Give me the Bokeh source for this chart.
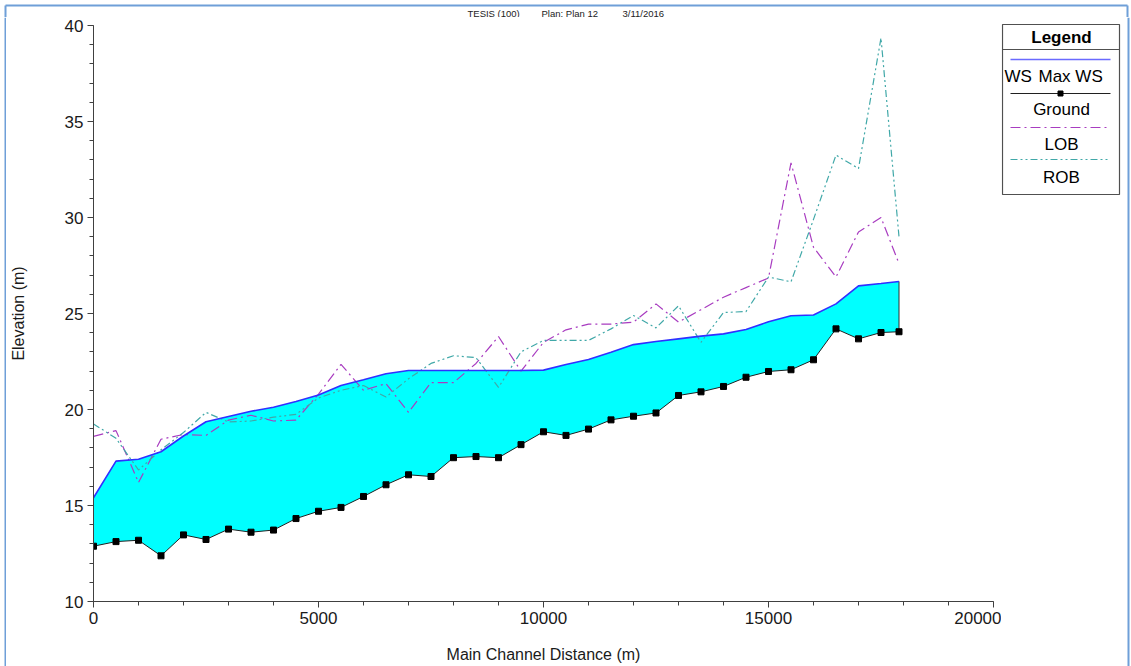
from bokeh.plotting import figure
from bokeh.models import Range1d, FixedTicker
from bokeh.layouts import row, column
from bokeh.embed import file_html
from bokeh.resources import INLINE
from bokeh.core.properties import value

# ---------------- data ----------------
station = [0, 500, 1000, 1500, 2000, 2500, 3000, 3500, 4000, 4500,
           5000, 5500, 6000, 6500, 7000, 7500, 8000, 8500, 9000, 9500,
           10000, 10500, 11000, 11500, 12000, 12500, 13000, 13500, 14000, 14500,
           15000, 15500, 16000, 16500, 17000, 17500, 17900]
ground = [12.88, 13.12, 13.19, 12.38, 13.47, 13.23, 13.77, 13.61, 13.72, 14.32,
          14.70, 14.90, 15.47, 16.08, 16.60, 16.51, 17.49, 17.55, 17.49, 18.17,
          18.84, 18.65, 18.98, 19.46, 19.65, 19.82, 20.73, 20.92, 21.20, 21.68,
          21.98, 22.07, 22.59, 24.20, 23.68, 24.01, 24.05]
ws = [15.40, 17.31, 17.41, 17.80, 18.62, 19.36, 19.64, 19.91, 20.12, 20.42,
      20.75, 21.25, 21.55, 21.86, 22.03, 22.03, 22.03, 22.03, 22.03, 22.03,
      22.05, 22.34, 22.60, 22.98, 23.38, 23.54, 23.68, 23.82, 23.94, 24.17,
      24.57, 24.88, 24.92, 25.50, 26.44, 26.56, 26.67]
lob = [18.60, 18.90, 16.20, 18.45, 18.70, 18.65, 19.45, 19.70, 19.40, 19.45,
       20.80, 22.35, 21.00, 21.35, 19.85, 21.40, 21.40, 22.40, 23.80, 22.00,
       23.50, 24.15, 24.45, 24.45, 24.55, 25.50, 24.55, 25.20, 25.85, 26.35,
       26.85, 32.85, 28.45, 26.90, 29.25, 30.00, 27.60]
rob = [19.25, 18.50, 16.85, 17.90, 18.80, 19.85, 19.35, 19.40, 19.60, 19.75,
       20.60, 21.00, 21.25, 20.65, 21.60, 22.40, 22.80, 22.70, 21.15, 23.00,
       23.60, 23.60, 23.60, 24.20, 24.90, 24.25, 25.40, 23.50, 25.05, 25.10,
       26.90, 26.65, 29.90, 33.25, 32.55, 39.35, 29.00]

x_ticks = [0, 5000, 10000, 15000, 20000]
y_ticks = [10, 15, 20, 25, 30, 35, 40]
title_parts = ["TESIS (100)", "Plan: Plan 12", "3/11/2016"]
legend_names = ["WS", "Max WS", "Ground", "LOB", "ROB"]

# ---------------- layout constants (page pixels) ----------------
FONT = "Liberation Sans"
W, H = 1131, 666
TOP_H = 17                 # title band height
STRIP_W = 6                # left window-frame strip
FL, FT, FW, FH = 92, 25, 900, 576  # frame left/top (page), frame size
MAIN_W = 1000 - STRIP_W    # main canvas width  (ends at page x=1000)
LEG_W = W - 1000           # legend panel width
BODY_H = H - TOP_H
FRAME_COL = "#6f9fd8"
LOB_COL, ROB_COL, WS_COL = "#a83cc0", "#40a8a8", "#3030ff"
LOB_DASH, ROB_DASH = "10 4 2 4", "7 3 2 3 2 3"


def pixel_fig(w, h):
    f = figure(width=w, height=h, x_range=Range1d(0, w), y_range=Range1d(h, 0),
               x_axis_type=None, y_axis_type=None, min_border=0,
               output_backend="svg", toolbar_location=None)
    f.frame_align = False
    f.outline_line_color = None
    f.background_fill_color = "white"
    f.border_fill_color = "white"
    f.grid.visible = False
    return f


# ---------------- main chart ----------------
p = figure(frame_width=FW, frame_height=FH,
           x_range=Range1d(x_ticks[0], x_ticks[-1]),
           y_range=Range1d(y_ticks[0], y_ticks[-1]),
           min_border_left=FL - STRIP_W, min_border_top=FT - TOP_H,
           min_border_right=MAIN_W - (FL - STRIP_W) - FW,
           min_border_bottom=BODY_H - (FT - TOP_H) - FH,
           output_backend="svg", toolbar_location=None)
p.frame_align = False
p.outline_line_color = None
p.xgrid.grid_line_color = None
p.ygrid.grid_line_color = None
p.background_fill_color = "white"
p.border_fill_color = "white"

for ax in (p.xaxis[0], p.yaxis[0]):
    ax.axis_line_color = "#404040"
    ax.major_tick_line_color = "#404040"
    ax.minor_tick_line_color = "#404040"
    ax.major_tick_out = 6
    ax.major_tick_in = 0
    ax.minor_tick_out = 4
    ax.minor_tick_in = 0
    ax.major_label_text_font = FONT
    ax.major_label_text_font_size = "17px"
    ax.major_label_text_color = "#1a1a1a"
    ax.axis_label_text_font = FONT
    ax.axis_label_text_font_size = "16px"
    ax.axis_label_text_font_style = "normal"
    ax.axis_label_text_color = "#1a1a1a"
    ax.major_label_standoff = 4

xa = p.xaxis[0]
xa.ticker = FixedTicker(ticks=x_ticks, minor_ticks=list(range(0, 20001, 1000)))
xa.axis_label = "Main Channel Distance (m)"
xa.axis_label_standoff = 19

ya = p.yaxis[0]
ya.ticker = FixedTicker(ticks=y_ticks, minor_ticks=list(range(10, 41)))
ya.axis_label = "Elevation (m)"
ya.axis_label_standoff = 35

p.varea(x=station, y1=ground, y2=ws, fill_color="#00ffff")
p.segment(x0=[station[-1]], y0=[ground[-1]], x1=[station[-1]], y1=[ws[-1]],
          line_color="#303030", line_width=1)
p.line(station, lob, line_color=LOB_COL, line_width=1.2, line_dash=LOB_DASH)
p.line(station, rob, line_color=ROB_COL, line_width=1.2, line_dash=ROB_DASH)
p.line(station, ws, line_color=WS_COL, line_width=1.6)
p.line(station, ground, line_color="#202020", line_width=1)
p.scatter(station, ground, marker="square", size=6, fill_color="black", line_color="black")

# ---------------- title band ----------------
t = pixel_fig(W, TOP_H)
t.text(x=[467, 541, 622], y=[12.5, 12.5, 12.5], text=title_parts, text_font=value(FONT),
       text_font_size="9.5px", text_align="left", text_baseline="middle",
       text_color="#222222")
t.line([5, 1127], [5, 5], line_color=FRAME_COL, line_width=2)
t.line([5, 5], [5, TOP_H], line_color=FRAME_COL, line_width=2)
t.line([1127, 1127], [5, TOP_H], line_color=FRAME_COL, line_width=2)

# ---------------- left frame strip ----------------
s = pixel_fig(STRIP_W, BODY_H)
s.line([5, 5], [0, BODY_H], line_color=FRAME_COL, line_width=2)

# ---------------- legend panel (page x 1000.., page y TOP_H..) ----------------
g = pixel_fig(LEG_W, BODY_H)
ox, oy = 1000, TOP_H


def gx(px):
    return px - ox


def gy(py):
    return py - oy


g.quad(left=gx(1001), right=gx(1118), top=gy(24), bottom=gy(194),
       fill_color="white", line_color="#505050", line_width=1.2)
g.line([gx(1001), gx(1118)], [gy(49), gy(49)], line_color="#505050", line_width=1.2)
g.text(x=[gx(1060)], y=[gy(36.5)], text=["Legend"], text_font=value(FONT),
       text_font_size="17px", text_font_style="bold", text_align="center",
       text_baseline="middle", text_color="black")
g.line([gx(1009), gx(1109)], [gy(59), gy(59)], line_color="#6a6aff", line_width=1.6)
g.text(x=[gx(1003), gx(1037)], y=[gy(76), gy(76)], text=legend_names[:2],
       text_font=value(FONT), text_font_size="17px", text_align="left",
       text_baseline="middle", text_color="black")
g.line([gx(1009), gx(1109)], [gy(93), gy(93)], line_color="#202020", line_width=1)
g.scatter([gx(1059)], [gy(93)], marker="square", size=5, color="black")
g.line([gx(1009), gx(1109)], [gy(127), gy(127)], line_color=LOB_COL, line_width=1.2,
       line_dash=LOB_DASH)
g.line([gx(1009), gx(1109)], [gy(159), gy(159)], line_color=ROB_COL, line_width=1.2,
       line_dash=ROB_DASH)
g.text(x=[gx(1060)] * 3, y=[gy(109), gy(144), gy(177)], text=legend_names[2:],
       text_font=value(FONT), text_font_size="17px", text_align="center",
       text_baseline="middle", text_color="black")
g.line([gx(1127), gx(1127)], [0, BODY_H], line_color=FRAME_COL, line_width=2)

layout = column(t, row(s, p, g, spacing=0), spacing=0)
open("out.html", "w").write(file_html(layout, INLINE))
